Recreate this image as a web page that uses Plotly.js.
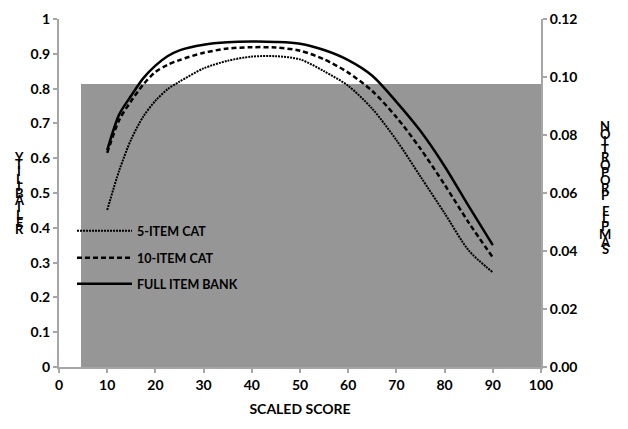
<!DOCTYPE html>
<html>
<head>
<meta charset="utf-8">
<script src="https://cdn.plot.ly/plotly-3.0.1.min.js"></script>
<style>
    body { margin: 0; background: white; }
    #chart { width: 628px; height: 429px; }
</style>
</head>
<body>
<div id="chart"></div>
<script>
// Scaled scores where reliability was evaluated
var scores = [10, 12.5, 15, 17.5, 20, 22.5, 25, 30, 35, 40, 45, 50, 55, 60, 65, 70, 75, 80, 85, 90];

// Reliability of each test form
var fiveItem = [0.451, 0.565, 0.655, 0.72, 0.765, 0.798, 0.820, 0.858, 0.880, 0.892, 0.893, 0.884, 0.850, 0.808, 0.742, 0.652, 0.547, 0.442, 0.335, 0.272];
var tenItem  = [0.615, 0.710, 0.765, 0.812, 0.848, 0.868, 0.882, 0.903, 0.915, 0.919, 0.918, 0.909, 0.884, 0.846, 0.793, 0.718, 0.627, 0.524, 0.415, 0.315];
var fullBank = [0.623, 0.726, 0.780, 0.830, 0.866, 0.893, 0.910, 0.926, 0.933, 0.935, 0.934, 0.929, 0.911, 0.882, 0.837, 0.762, 0.678, 0.577, 0.462, 0.350];

// Sample proportion (histogram of scaled scores)
var binStart = [4.5];
var binEnd = [100];
var proportion = [0.0975];

// Axis titles, drawn one letter at a time like the original
var leftTitle = 'RELIABILITY';
var rightTitle = 'SAMPLE PROPORTION';

var boldFont = {family: 'Lato, "Open Sans", sans-serif', weight: 'bold', color: 'black'};

function font(size) {
    return Object.assign({}, boldFont, {size: size});
}

var bars = {
    x: binStart.map(function(s, i) { return (s + binEnd[i]) / 2; }),
    width: binStart.map(function(s, i) { return binEnd[i] - s; }),
    y: proportion,
    type: 'bar',
    marker: {color: '#969696', line: {width: 0}},
    xaxis: 'x',
    yaxis: 'y',
    showlegend: false,
    hoverinfo: 'skip'
};

function curve(values, name, dash, width, legendId) {
    return {
        x: scores,
        y: values,
        name: name,
        type: 'scatter',
        mode: 'lines',
        line: {color: 'black', width: width, dash: dash, shape: 'spline', smoothing: 0.8},
        xaxis: 'x',
        yaxis: 'y2',
        legend: legendId
    };
}

var data = [
    bars,
    curve(fiveItem, '5-ITEM CAT', '2px,1px', 2, 'legend'),
    curve(tenItem, '10-ITEM CAT', '5px,3px', 2.5, 'legend2'),
    curve(fullBank, 'FULL ITEM BANK', 'solid', 2.5, 'legend3')
];

// plot area in pixels, used to place the letter annotations
var plotLeft = 59, plotRight = 541, plotTop = 19, plotBottom = 367;
function px2x(px) { return (px - plotLeft) / (plotRight - plotLeft); }
function px2y(py) { return (plotBottom - py) / (plotBottom - plotTop); }

var annotations = [];
var leftLetters = leftTitle.split('').reverse();
for (let i = 0; i < leftLetters.length; i++) {
    annotations.push({
        text: leftLetters[i], xref: 'paper', yref: 'paper',
        x: px2x(19), y: px2y(157 + i * 7.2),
        showarrow: false, font: font(13), xanchor: 'center', yanchor: 'middle'
    });
}
var rightLetters = rightTitle.split('').reverse();
for (let i = 0; i < rightLetters.length; i++) {
    annotations.push({
        text: rightLetters[i], xref: 'paper', yref: 'paper',
        x: px2x(605), y: px2y(126 + i * 7.7),
        showarrow: false, font: font(13), xanchor: 'center', yanchor: 'middle'
    });
}

function legendAt(py) {
    return {
        x: px2x(72), y: px2y(py), xanchor: 'left', yanchor: 'middle',
        bgcolor: 'rgba(0,0,0,0)', borderwidth: 0, font: font(12.5), itemwidth: 55
    };
}

var axisStyle = {
    showline: true, linecolor: '#a6a6a6', linewidth: 2,
    ticks: 'outside', ticklen: 4, tickcolor: '#a6a6a6', tickwidth: 2,
    showgrid: false, zeroline: false, tickfont: font(14), fixedrange: true
};

var layout = {
    width: 628,
    height: 429,
    margin: {l: plotLeft, r: 628 - plotRight, t: plotTop, b: 429 - plotBottom},
    paper_bgcolor: 'white',
    plot_bgcolor: 'white',
    bargap: 0,
    xaxis: Object.assign({}, axisStyle, {
        range: [0, 100], dtick: 10,
        title: {text: 'SCALED SCORE', font: font(14), standoff: 12}
    }),
    yaxis: Object.assign({}, axisStyle, {
        range: [0, 0.12], dtick: 0.02, tickformat: '.2f', side: 'right'
    }),
    yaxis2: Object.assign({}, axisStyle, {
        range: [0, 1], dtick: 0.1, side: 'left', overlaying: 'y'
    }),
    legend: legendAt(231),
    legend2: legendAt(258),
    legend3: legendAt(284),
    annotations: annotations
};

Plotly.newPlot('chart', data, layout, {displayModeBar: false, staticPlot: true});
</script>
</body>
</html>
